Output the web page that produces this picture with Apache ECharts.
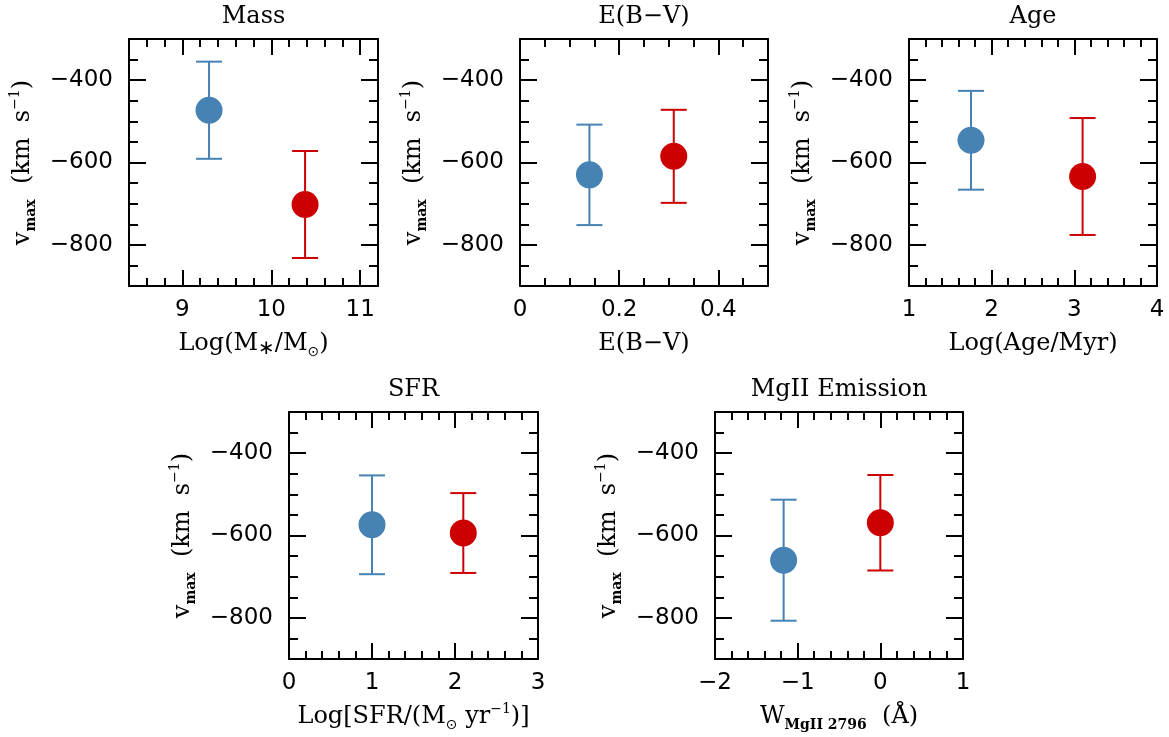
<!DOCTYPE html>
<html>
<head>
<meta charset="utf-8">
<title>v_max vs galaxy properties</title>
<script src="https://cdn.jsdelivr.net/npm/echarts@6/dist/echarts.min.js"></script>
<style>
  html, body { margin: 0; padding: 0; background: #fff; }
  #chart { width: 1169px; height: 737px; }
</style>
</head>
<body>
<div id="chart"></div>
<script>
// Panel titles and the quantity on each x axis
const panelTitles = ['Mass', 'E(B\u2212V)', 'Age', 'SFR', 'MgII Emission'];

// Low-property subsample (blue) and high-property subsample (red):
// x position, mean v_max (km/s) and its 1-sigma error
const blueX   = [9.30, 0.14, 1.75, 1.00, -1.17];
const blueV   = [-473, -630, -546, -574, -660];
const blueErr = [118, 122, 120, 120, 147];
const redX    = [10.38, 0.31, 3.10, 2.10, 0.00];
const redV    = [-702, -585, -634, -594, -569];
const redErr  = [130, 113, 142, 97, 116];

// x-axis ranges, labelled (major) ticks and minor tick spacing
const xMin = [8.4, 0, 1, 0, -2];
const xMax = [11.2, 0.5, 4, 3, 1];
const xMajor = [[9, 10, 11], [0, 0.2, 0.4], [1, 2, 3, 4], [0, 1, 2, 3], [-2, -1, 0, 1]];
const xMinorStep = [0.2, 0.05, 0.2, 0.2, 0.2];

// shared v_max axis
const yMin = -900, yMax = -300;
const yMajor = [-400, -600, -800];
const yMinorStep = 50;

// panel frames in pixels
const frames = [
  { left: 129, top: 39, width: 249, height: 247 },
  { left: 520, top: 39, width: 248, height: 247 },
  { left: 909, top: 39, width: 248, height: 247 },
  { left: 289, top: 412, width: 249, height: 247 },
  { left: 715, top: 412, width: 248, height: 247 }
];

const BLUE = '#4682b4';
const RED = '#cc0000';
const SERIF = '"DejaVu Serif", serif';
const SANS = '"DejaVu Sans", sans-serif';

const richText = {
  b: { fontFamily: SERIF, fontSize: 24, color: '#000', lineHeight: 30 },
  s: { fontFamily: SERIF, fontSize: 14, fontWeight: 'bold', color: '#000', verticalAlign: 'bottom', lineHeight: 14 },
  a: { fontFamily: SANS, fontSize: 20, color: '#000', verticalAlign: 'bottom', lineHeight: 19 },
  o: { fontFamily: SANS, fontSize: 14, color: '#000', verticalAlign: 'bottom', lineHeight: 14 },
  p: { fontFamily: SERIF, fontSize: 14, color: '#000', verticalAlign: 'top', lineHeight: 14 }
};

const xNames = [
  '{b|Log(M}{a|\u2217}{b|/M}{o|\u2299}{b|)}',
  '{b|E(B\u2212V)}',
  '{b|Log(Age/Myr)}',
  '{b|Log[SFR/(M}{o|\u2299}{b| yr}{p|\u22121}{b|)]}',
  '{b|W}{s|MgII 2796}{b|  (\u00c5)}'
];
const yName = '{b|v}{s|max}{b|  (km  s}{p|\u22121}{b|)}';

function minorTicks(min, max, step, majors) {
  const out = [];
  const n = Math.round((max - min) / step);
  for (let k = 1; k < n; k++) {
    const v = +(min + k * step).toFixed(4);
    if (!majors.some(m => Math.abs(m - v) < 1e-6)) out.push(v);
  }
  return out;
}

function fmt(v) {
  const s = String(+v.toFixed(3));
  return s.replace('-', '\u2212');
}

const TICK = { color: '#000', width: 2 };

const grid = [], xAxis = [], yAxis = [], title = [], series = [];

frames.forEach((f, i) => {
  grid.push(Object.assign({}, f, { containLabel: false }));
  title.push({
    text: panelTitles[i],
    left: f.left + f.width / 2,
    top: f.top - 34,
    textAlign: 'center',
    padding: 0,
    textStyle: { fontFamily: SERIF, fontSize: 24, fontWeight: 'normal', color: '#000' }
  });

  const xm = minorTicks(xMin[i], xMax[i], xMinorStep[i], xMajor[i]);
  const xBase = { type: 'value', gridIndex: i, min: xMin[i], max: xMax[i], splitLine: { show: false } };
  // bottom: frame line, long ticks, labels and axis title
  xAxis.push(Object.assign({}, xBase, {
    position: 'bottom',
    axisLine: { show: true, onZero: false, lineStyle: { color: '#000', width: 2 } },
    axisTick: { show: true, inside: true, length: 16, lineStyle: TICK, customValues: xMajor[i] },
    axisLabel: { show: true, margin: 13, customValues: xMajor[i], formatter: fmt,
      fontFamily: SANS, fontSize: 23, color: '#000' },
    name: xNames[i],
    nameLocation: 'middle',
    nameGap: 43,
    nameTextStyle: { rich: richText }
  }));
  // bottom: short ticks
  xAxis.push(Object.assign({}, xBase, {
    position: 'bottom',
    axisLine: { show: false, onZero: false },
    axisTick: { show: true, inside: true, length: 8, lineStyle: TICK, customValues: xm },
    axisLabel: { show: false }
  }));
  // top: frame line with long and short ticks
  xAxis.push(Object.assign({}, xBase, {
    position: 'top',
    axisLine: { show: true, onZero: false, lineStyle: { color: '#000', width: 2 } },
    axisTick: { show: true, inside: true, length: 16, lineStyle: TICK, customValues: xMajor[i] },
    axisLabel: { show: false }
  }));
  xAxis.push(Object.assign({}, xBase, {
    position: 'top',
    axisLine: { show: false, onZero: false },
    axisTick: { show: true, inside: true, length: 8, lineStyle: TICK, customValues: xm },
    axisLabel: { show: false }
  }));

  const ym = minorTicks(yMin, yMax, yMinorStep, yMajor);
  const yBase = { type: 'value', gridIndex: i, min: yMin, max: yMax, splitLine: { show: false } };
  yAxis.push(Object.assign({}, yBase, {
    position: 'left',
    axisLine: { show: true, onZero: false, lineStyle: { color: '#000', width: 2 } },
    axisTick: { show: true, inside: true, length: 17, lineStyle: TICK, customValues: yMajor },
    axisLabel: { show: true, margin: 16, customValues: yMajor, formatter: fmt,
      fontFamily: SANS, fontSize: 23, color: '#000' },
    name: yName,
    nameLocation: 'middle',
    nameRotate: 90,
    nameGap: 91,
    nameTextStyle: { rich: richText }
  }));
  yAxis.push(Object.assign({}, yBase, {
    position: 'left',
    axisLine: { show: false, onZero: false },
    axisTick: { show: true, inside: true, length: 9, lineStyle: TICK, customValues: ym },
    axisLabel: { show: false }
  }));
  yAxis.push(Object.assign({}, yBase, {
    position: 'right',
    axisLine: { show: true, onZero: false, lineStyle: { color: '#000', width: 2 } },
    axisTick: { show: true, inside: true, length: 17, lineStyle: TICK, customValues: yMajor },
    axisLabel: { show: false }
  }));
  yAxis.push(Object.assign({}, yBase, {
    position: 'right',
    axisLine: { show: false, onZero: false },
    axisTick: { show: true, inside: true, length: 9, lineStyle: TICK, customValues: ym },
    axisLabel: { show: false }
  }));

  const pts = [
    { x: blueX[i], v: blueV[i], e: blueErr[i], c: BLUE },
    { x: redX[i], v: redV[i], e: redErr[i], c: RED }
  ];
  pts.forEach(p => {
    // error bar with caps
    series.push({
      type: 'custom',
      xAxisIndex: i * 4,
      yAxisIndex: i * 4,
      z: 3,
      silent: true,
      data: [[p.x, p.v, p.e]],
      renderItem: function (params, api) {
        const x = api.value(0), y = api.value(1), e = api.value(2);
        const hi = api.coord([x, y + e]);
        const lo = api.coord([x, y - e]);
        const half = 13;
        const style = { stroke: p.c, lineWidth: 2, fill: null };
        return {
          type: 'group',
          children: [
            { type: 'line', shape: { x1: hi[0], y1: hi[1], x2: lo[0], y2: lo[1] }, style: style },
            { type: 'line', shape: { x1: hi[0] - half, y1: hi[1], x2: hi[0] + half, y2: hi[1] }, style: style },
            { type: 'line', shape: { x1: lo[0] - half, y1: lo[1], x2: lo[0] + half, y2: lo[1] }, style: style }
          ]
        };
      }
    });
    // mean value marker
    series.push({
      type: 'scatter',
      xAxisIndex: i * 4,
      yAxisIndex: i * 4,
      z: 4,
      silent: true,
      symbol: 'circle',
      symbolSize: 27,
      itemStyle: { color: p.c, opacity: 1 },
      data: [[p.x, p.v]]
    });
  });
});

const chart = echarts.init(document.getElementById('chart'), null, { renderer: 'canvas' });
chart.setOption({
  backgroundColor: '#fff',
  animation: false,
  title: title,
  grid: grid,
  xAxis: xAxis,
  yAxis: yAxis,
  series: series
});
</script>
</body>
</html>
